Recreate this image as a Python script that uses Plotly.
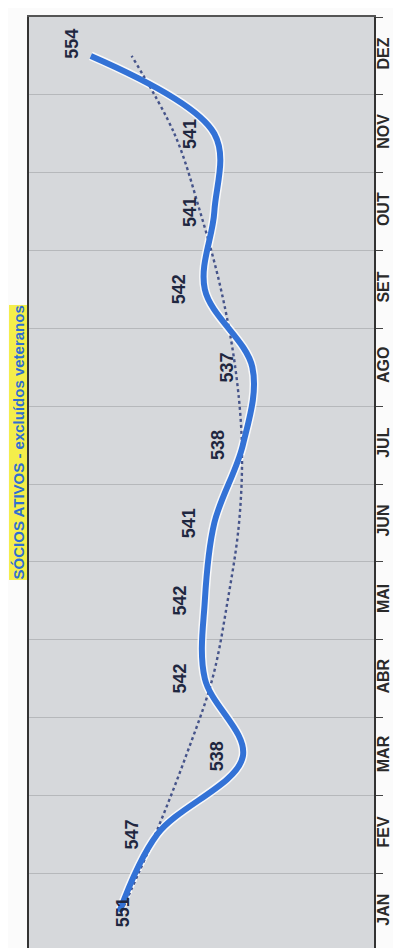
import plotly.graph_objects as go

months = ["JAN", "FEV", "MAR", "ABR", "MAI", "JUN", "JUL", "AGO", "SET", "OUT", "NOV", "DEZ"]
socios = [551, 547, 538, 542, 542, 541, 538, 537, 542, 541, 541, 554]
tendencia = [550.8, 547.2, 544.0, 541.2, 539.6, 538.4, 538.1, 538.8, 540.3, 542.5, 545.2, 549.7]
titulo = "SÓCIOS ATIVOS - excluídos veteranos"

W, H = 401, 948
fig = go.Figure()

# white halo under main line
fig.add_trace(go.Scatter(x=socios, y=months, mode="lines",
                         line=dict(color="rgba(255,255,255,0.85)", width=9, shape="spline", smoothing=1.0),
                         hoverinfo="skip", showlegend=False))
fig.add_trace(go.Scatter(x=tendencia, y=months, mode="lines",
                         line=dict(color="#46548a", width=2.4, dash="dot", shape="spline", smoothing=1.0),
                         showlegend=False))
fig.add_trace(go.Scatter(x=socios, y=months, mode="lines",
                         line=dict(color="#3372d6", width=6, shape="spline", smoothing=1.0),
                         showlegend=False))

for i, (m, v) in enumerate(zip(months, socios)):
    dx, dy = -25, 0
    if i == 0:
        dx = 4
    if i == len(months) - 1:
        dx, dy = -19, 12
    fig.add_annotation(x=v, y=m, text=str(v), showarrow=False, textangle=-90,
                       xshift=dx, yshift=dy,
                       font=dict(family="Liberation Sans, Arial", size=18, color="#1f2740", weight="bold"))

fig.add_annotation(xref="paper", yref="paper", x=-0.058, y=0.545, xanchor="left", yanchor="middle",
                   text=titulo, showarrow=False, textangle=-90, bgcolor="#f4ee4a", borderpad=0,
                   font=dict(family="Liberation Sans, Arial", size=15, color="#2f6ed2", weight="bold"))

fig.update_layout(
    width=W, height=H,
    margin=dict(l=21, r=35, t=9, b=5),
    paper_bgcolor="#fbfbfb",
    plot_bgcolor="#d6d8db",
    showlegend=False,
    xaxis=dict(range=[560.5, 524.2], showgrid=False, zeroline=False, showticklabels=False,
               ticks="", showline=True, linecolor="#555555", linewidth=1.5, mirror=True),
    yaxis=dict(type="category", categoryorder="array", categoryarray=months,
               side="right", tickson="boundaries", ticks="outside", ticklen=7,
               tickcolor="#444444", tickangle=-90, showgrid=True, gridcolor="#b6b8bb",
               gridwidth=1, showline=True, linecolor="#333333", linewidth=1.5, mirror=True,
               ticklabelstandoff=-6,
               tickfont=dict(family="Liberation Sans, Arial", size=16, color="#2a2a2a", weight="bold"),
               range=[-0.5, 11.5]),
)

fig.write_html("out.html")
